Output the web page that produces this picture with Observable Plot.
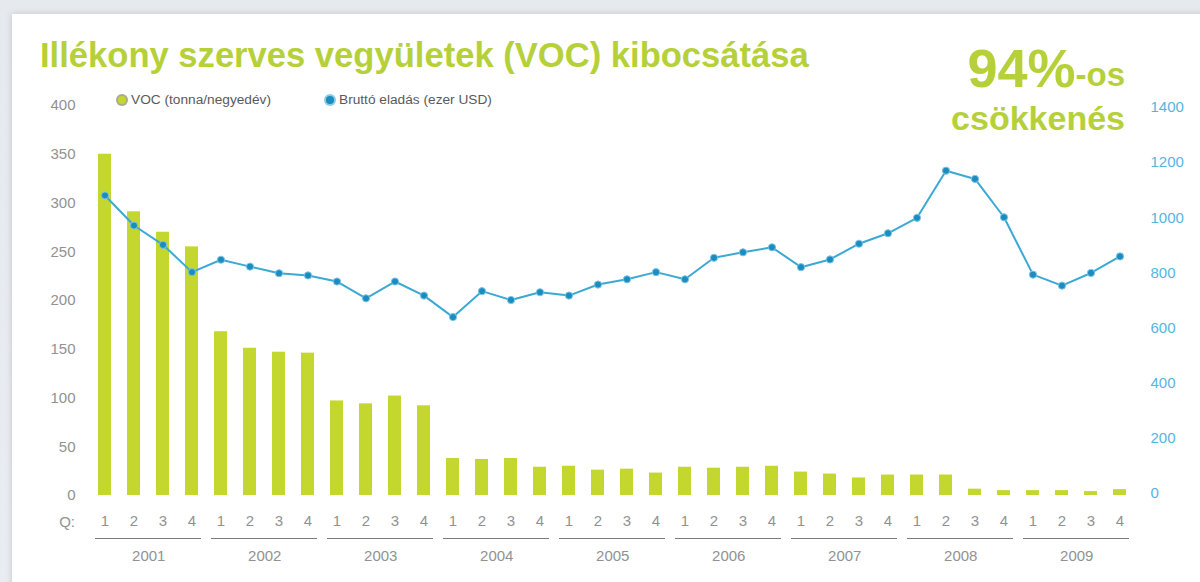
<!DOCTYPE html>
<html>
<head>
<meta charset="utf-8">
<script src="https://cdn.jsdelivr.net/npm/d3@7"></script>
<script src="https://cdn.jsdelivr.net/npm/@observablehq/plot@0.6"></script>
<style>
  html, body { margin: 0; padding: 0; }
  body { width: 1200px; height: 582px; overflow: hidden; position: relative;
         background: linear-gradient(180deg, #e6e9ee 0%, #e9ecf0 100%);
         font-family: "Liberation Sans", Arial, Helvetica, sans-serif; }
  #card { position: absolute; left: 12px; top: 14px; width: 1200px; height: 580px; background: #ffffff;
          box-shadow: 0 0 6px rgba(120,130,145,0.35); }
  #chart { position: absolute; left: 0; top: 0; }
  #title { position: absolute; left: 40px; top: 38px; font-size: 34.6px; font-weight: bold; color: #b6d03a;
           white-space: nowrap; line-height: 1; }
  .note { position: absolute; right: 75px; text-align: right; color: #b6d03a; font-weight: bold; white-space: nowrap; }
  #note1 { top: 46px; height: 44px; line-height: 44px; }
  #note1 span { display: inline-block; height: 44px; vertical-align: top; }
  #note1 .big { font-size: 54px; line-height: 44px; }
  #note1 .mid { font-size: 33px; line-height: 58.7px; }
  #note2 { top: 104px; font-size: 34px; line-height: 28px; height: 28px; }
  .legend { position: absolute; top: 92px; font-size: 13.7px; color: #5a5a5a; white-space: nowrap; display: flex; align-items: center; }
  .legend .sw { display: inline-block; width: 8px; height: 8px; border-radius: 50%; margin-right: 5px; }
</style>
</head>
<body>
<div id="card"></div>
<div id="chart"></div>
<div id="title">Illékony szerves vegyületek (VOC) kibocsátása</div>
<div class="note" id="note1"><span class="big">94%</span><span class="mid">-os</span></div>
<div class="note" id="note2">csökkenés</div>
<div class="legend" id="leg1" style="left:118px"></div>
<div class="legend" id="leg2" style="left:326px"></div>
<script>
// ---- data ----
const years = ["2001","2002","2003","2004","2005","2006","2007","2008","2009"];
const quarters = ["1","2","3","4"];
const vocValues = [350, 291, 270, 255, 168, 151, 147, 146, 97, 94, 102, 92,
                   38, 37, 38, 29, 30, 26, 27, 23, 29, 28, 29, 30,
                   24, 22, 18, 21, 21, 21, 6.5, 5, 5, 5, 4, 6];
const salesValues = [1081, 972, 902, 803, 848, 823, 799, 791, 769, 708, 769, 718,
                     640, 734, 702, 730, 718, 758, 777, 803, 777, 855, 875, 893,
                     821, 849, 906, 944, 1000, 1171, 1141, 1002, 794, 754, 800, 860];
const leftTicks = [0, 50, 100, 150, 200, 250, 300, 350, 400];
const rightTicks = [0, 200, 400, 600, 800, 1000, 1200, 1400];
const seriesNames = ["VOC (tonna/negyedév)", "Bruttó eladás (ezer USD)"];

// ---- styles ----
const barColor = "#c4d72f";
const lineColor = "#3ba9d4";
const dotColor = "#1a8cbf";
const leftColor = "#929292";
const rightColor = "#55b5de";

// right axis (0–1400) expressed in the left axis units (0–400)
const toLeft = v => 2 + v * 0.2828;
const fromLeft = v => Math.round((v - 2) / 0.2828);

const keys = years.flatMap(y => quarters.map(q => `${y}-${q}`));
const data = keys.map((k, i) => ({key: k, voc: vocValues[i], sales: toLeft(salesValues[i])}));

const W = 1200, H = 582, mL = 82, mR = 58, mT = 105, mB = 87;
const step = (W - mL - mR) / keys.length;

const chart = Plot.plot({
  width: W, height: H,
  marginLeft: mL, marginRight: mR, marginTop: mT, marginBottom: mB,
  style: {background: "transparent", fontFamily: "'Liberation Sans', Arial, sans-serif", fontSize: "15px"},
  x: {type: "band", domain: keys, paddingInner: 0.56, paddingOuter: 0.28, axis: null},
  y: {domain: [0, 400], axis: null},
  marks: [
    Plot.axisY({ticks: leftTicks, tickSize: 0, tickPadding: 7, color: leftColor, label: null}),
    Plot.axisY(rightTicks.map(toLeft), {anchor: "right", tickSize: 0, tickPadding: 8, color: rightColor,
      tickFormat: d => String(fromLeft(d)), label: null, textAnchor: "start"}),
    Plot.barY(data, {x: "key", y: "voc", fill: barColor}),
    Plot.line(data, {x: "key", y: "sales", stroke: lineColor, strokeWidth: 2}),
    Plot.dot(data, {x: "key", y: "sales", r: 3.6, fill: dotColor, stroke: "#7cc6e6", strokeWidth: 1}),
    Plot.axisX({tickSize: 0, tickPadding: 20, color: leftColor, label: null,
      tickFormat: k => k.split("-")[1]}),
    Plot.text(["Q:"], {x: () => keys[0], y: () => 0, dx: -30, dy: 27, textAnchor: "end", fill: leftColor, fontSize: 15}),
    Plot.ruleY(years, {y: () => 0, x1: d => d + "-1", x2: d => d + "-4", dy: 43, stroke: "#7a7a7a", strokeWidth: 1.2,
      insetLeft: -3, insetRight: -3}),
    Plot.text(years, {x: d => d + "-2", y: () => 0, dx: step / 2, dy: 61, fill: leftColor, fontSize: 15})
  ]
});
document.getElementById("chart").appendChild(chart);

// legend
function legend(id, name, fill, ring) {
  const el = document.getElementById(id);
  const sw = document.createElement("span");
  sw.className = "sw";
  sw.style.background = fill;
  sw.style.boxShadow = `0 0 0 2px ${ring}`;
  el.appendChild(sw);
  const t = document.createElement("span");
  t.textContent = name;
  el.appendChild(t);
}
legend("leg1", seriesNames[0], barColor, "#a9ab8f");
legend("leg2", seriesNames[1], dotColor, "#8ccbe8");
</script>
</body>
</html>
